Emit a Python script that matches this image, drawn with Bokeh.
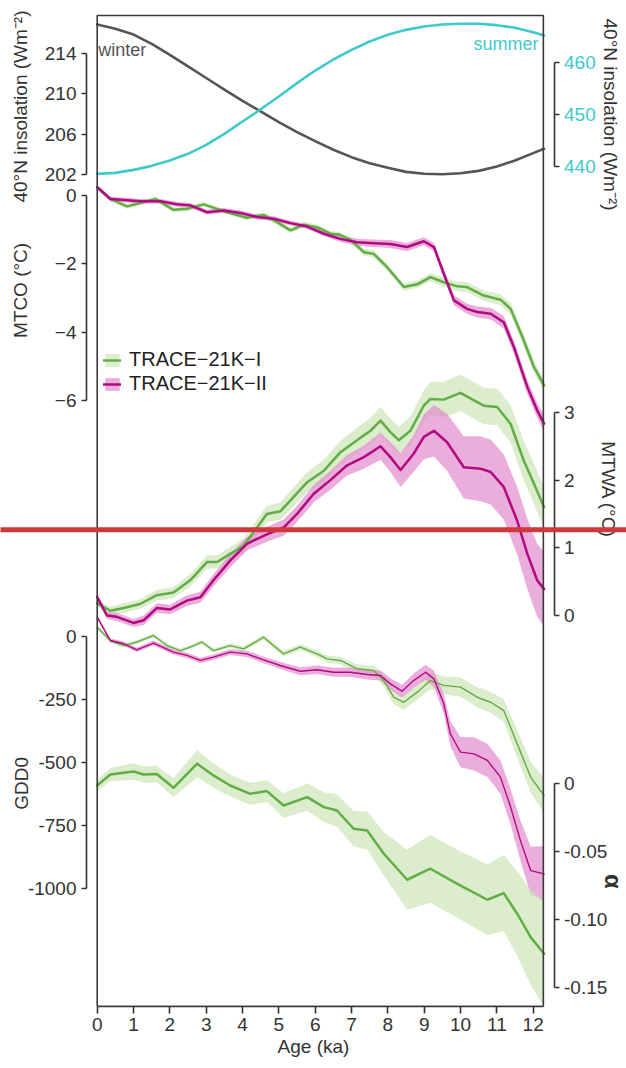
import numpy as np
from math import pi
from bokeh.plotting import figure
from bokeh.models import (Range1d, LinearAxis, FixedTicker, Label, Legend,
                          LegendItem, BoxAnnotation)
from bokeh.embed import file_html
from bokeh.resources import INLINE

# ---------------- data ----------------
ins_age = [0, 0.5, 1, 1.5, 2, 2.5, 3, 3.5, 4, 4.45, 5, 5.5, 6, 6.5, 7, 7.5, 8, 8.5,
           9, 9.5, 10, 10.5, 11, 11.5, 12, 12.3]
ins_winter = [216.88, 216.45, 215.88, 214.96, 213.87, 212.72, 211.57, 210.42, 209.30,
              208.35, 207.19, 206.20, 205.31, 204.45, 203.72, 203.12, 202.66, 202.26,
              202.07, 202.03, 202.13, 202.36, 202.79, 203.39, 204.12, 204.55]
ins_summer = [438.59, 438.78, 439.36, 440.13, 441.15, 442.44, 444.17, 446.28, 448.65,
              450.77, 453.46, 456.03, 458.46, 460.58, 462.44, 464.04, 465.32, 466.28,
              466.92, 467.31, 467.44, 467.44, 467.18, 466.67, 465.83, 465.19]

mtco1_age = [0, 0.36, 0.82, 1.18, 1.60, 2.10, 2.47, 2.93, 3.48, 4.12, 4.58, 4.95, 5.32,
             5.68, 6.05, 6.42, 6.65, 6.97, 7.34, 7.61, 7.98, 8.44, 8.81, 9.17, 9.54,
             9.91, 10.18, 10.64, 11.10, 11.38, 11.74, 12.02, 12.30]
mtco1 = [0.24, -0.10, -0.32, -0.22, -0.10, -0.42, -0.39, -0.26, -0.46, -0.65, -0.57,
         -0.78, -1.02, -0.86, -0.93, -1.12, -1.14, -1.30, -1.66, -1.71, -2.10, -2.68,
         -2.60, -2.39, -2.54, -2.66, -2.68, -2.93, -3.05, -3.32, -4.24, -5.02, -5.56]
mtco1_err = [0.06] + [0.07] * 10 + [0.08] * 6 + [0.09] + [0.10] * 4 + [0.11, 0.12, 0.13,
             0.14, 0.15, 0.15, 0.16, 0.17, 0.18, 0.18, 0.18]

mtco2_age = [0, 0.36, 0.73, 1.18, 1.74, 2.19, 2.56, 3.02, 3.48, 3.94, 4.40, 4.86, 5.32,
             5.78, 6.24, 6.69, 7.15, 7.61, 8.07, 8.53, 8.99, 9.27, 9.54, 9.82, 10.18,
             10.46, 10.83, 11.19, 11.47, 11.84, 12.11, 12.30]
mtco2 = [0.24, -0.10, -0.13, -0.17, -0.17, -0.26, -0.29, -0.49, -0.44, -0.51, -0.63,
         -0.68, -0.81, -0.91, -1.12, -1.27, -1.37, -1.40, -1.42, -1.51, -1.34, -1.51,
         -2.29, -3.07, -3.32, -3.41, -3.46, -3.71, -4.44, -5.61, -6.29, -6.68]
mtco2_err = [0.06] + [0.07] * 14 + [0.09, 0.10, 0.11, 0.12, 0.12, 0.12, 0.12, 0.13, 0.14,
             0.15, 0.16, 0.17, 0.18, 0.19, 0.20, 0.22, 0.24]

mtwa1_age = [0, 0.36, 0.73, 1.18, 1.64, 2.10, 2.56, 3.02, 3.30, 3.66, 4.03, 4.40, 4.67,
             5.04, 5.32, 5.78, 6.24, 6.69, 7.15, 7.52, 7.80, 8.07, 8.30, 8.62, 8.99,
             9.17, 9.54, 10.00, 10.37, 10.64, 11.01, 11.38, 11.74, 12.02, 12.30]
mtwa1 = [0.18, 0.07, 0.11, 0.17, 0.30, 0.34, 0.52, 0.79, 0.79, 0.91, 1.03, 1.30, 1.50,
         1.54, 1.70, 1.97, 2.14, 2.41, 2.59, 2.73, 2.88, 2.71, 2.59, 2.73, 3.10, 3.20,
         3.19, 3.29, 3.18, 3.10, 3.08, 2.83, 2.29, 1.95, 1.60]
mtwa1_err = [0.05, 0.06, 0.07, 0.07, 0.08, 0.08, 0.09, 0.10, 0.10, 0.10, 0.11, 0.12,
             0.12, 0.13, 0.14, 0.15, 0.16, 0.17, 0.18, 0.19, 0.20, 0.20, 0.20, 0.21,
             0.23, 0.25, 0.26, 0.27, 0.27, 0.27, 0.27, 0.28, 0.29, 0.30, 0.30]

mtwa2_age = [0, 0.27, 0.54, 1.00, 1.28, 1.64, 2.01, 2.47, 2.84, 3.20, 3.66, 4.12, 4.67,
             5.13, 5.50, 5.96, 6.42, 6.88, 7.34, 7.80, 8.07, 8.35, 8.71, 8.99, 9.27,
             9.63, 10.09, 10.55, 10.83, 11.19, 11.56, 11.84, 12.11, 12.30]
mtwa2 = [0.27, 0.00, -0.02, -0.11, -0.07, 0.11, 0.09, 0.22, 0.27, 0.52, 0.81, 1.06,
         1.20, 1.30, 1.50, 1.80, 2.00, 2.22, 2.34, 2.50, 2.34, 2.15, 2.39, 2.64, 2.73,
         2.56, 2.19, 2.17, 2.12, 1.90, 1.40, 0.91, 0.52, 0.39]
mtwa2_err = [0.05, 0.05, 0.06, 0.06, 0.07, 0.07, 0.07, 0.08, 0.08, 0.09, 0.10, 0.10,
             0.11, 0.12, 0.12, 0.13, 0.14, 0.15, 0.17, 0.20, 0.22, 0.25, 0.27, 0.33,
             0.38, 0.42, 0.46, 0.48, 0.48, 0.48, 0.50, 0.52, 0.54, 0.55]

gdd1_age = [0, 0.36, 0.73, 1.09, 1.55, 1.92, 2.29, 2.56, 2.88, 3.20, 3.66, 4.03, 4.58,
            5.13, 5.59, 6.05, 6.33, 6.69, 7.15, 7.61, 7.89, 8.16, 8.44, 8.81, 9.17,
            9.54, 10.00, 10.46, 10.83, 11.19, 11.56, 11.93, 12.30]
gdd1 = [37, -16, -36, -22, 4, -36, -56, -42, -22, -56, -36, -49, -3, -69, -42, -69, -89,
        -95, -128, -135, -175, -241, -261, -221, -175, -194, -201, -241, -261, -294,
        -426, -558, -631]
gdd1_err = [8] * 10 + [9, 10, 10, 11, 12, 13, 14, 15, 17, 20, 25, 28, 30, 30, 32, 35, 38,
            40, 42, 45, 55, 62, 68]

gdd2_age = [0, 0.36, 0.73, 1.09, 1.55, 2.10, 2.47, 2.84, 3.20, 3.66, 4.12, 4.58, 5.04,
            5.59, 6.05, 6.51, 6.97, 7.43, 7.80, 8.07, 8.39, 8.71, 9.04, 9.27, 9.54,
            9.72, 10.00, 10.37, 10.74, 11.10, 11.38, 11.65, 11.93, 12.30]
gdd2 = [77, -16, -29, -53, -26, -62, -75, -95, -82, -62, -69, -93, -115, -138, -132,
        -142, -142, -151, -155, -188, -217, -175, -142, -168, -267, -386, -459, -466,
        -492, -558, -677, -810, -929, -942]
gdd2_err = [8, 8, 9, 9, 10, 10, 10, 11, 11, 11, 12, 13, 14, 16, 17, 18, 19, 20, 20, 22,
            25, 28, 30, 32, 40, 50, 60, 66, 66, 66, 70, 80, 95, 110]

alpha_age = [0, 0.36, 1.00, 1.28, 1.64, 2.10, 2.75, 3.20, 3.66, 4.21, 4.67, 5.13, 5.78,
             6.24, 6.60, 7.06, 7.43, 7.89, 8.53, 9.17, 9.91, 10.74, 11.19, 11.56,
             11.93, 12.30]
alpha1 = [-0.0015, 0.0066, 0.0088, 0.0066, 0.0069, -0.0032, 0.0145, 0.0059, -0.0015,
          -0.0076, -0.0056, -0.0162, -0.0101, -0.0174, -0.0199, -0.0333, -0.0346,
          -0.0517, -0.0708, -0.0627, -0.0738, -0.0855, -0.0806, -0.0958, -0.1130,
          -0.1252]
alpha1_err = [0.004, 0.005, 0.006, 0.006, 0.006, 0.007, 0.010, 0.009, 0.008, 0.008,
              0.008, 0.009, 0.010, 0.011, 0.012, 0.013, 0.014, 0.016, 0.022, 0.025,
              0.025, 0.026, 0.028, 0.031, 0.035, 0.039]

x_ticks = list(range(13))
series_names = ["TRACE\u221221K\u2212I", "TRACE\u221221K\u2212II"]

# ---------------- styling ----------------
FONT = "Liberation Sans"
AXC = "#333333"
GREEN = "#62AD45"
GREEN_BAND = "#C7E4B0"
MAG = "#B10A80"
PINK_BAND = "#E28ACC"
CYAN = "#3FC9CC"
WINTER = "#555555"
TICK_FS = "19px"
TITLE_FS = "19px"

AGE_MAX = 12.28  # right edge of the data box

# The frame covers the whole canvas width so that the offset spines and titles
# (placed outside the data box) are not clipped; the visible box is drawn below.
p = figure(width=626, height=1064, output_backend="svg", toolbar_location=None,
           x_range=Range1d(-2.662, 14.569), y_range=Range1d(-23.74, 5.707),
           y_axis_location=None, min_border_left=0, min_border_right=0,
           min_border_top=0, min_border_bottom=58)
p.extra_y_ranges = {
    "ins_w": Range1d(119.49, 219.256),
    "ins_s": Range1d(278.5, 471.923),
    "mtwa": Range1d(-5.778, 9.088),
    "gdd": Range1d(-1468.3, 2523.8),
    "alpha": Range1d(-0.164, 0.5757),
}
p.grid.visible = False
p.outline_line_color = None
p.background_fill_color = "white"
p.border_fill_color = "white"


def band(x, y, e, rname, color, alpha):
    y = np.array(y, float)
    e = np.array(e, float)
    kw = {} if rname is None else {"y_range_name": rname}
    return p.varea(x=x, y1=y - e, y2=y + e, fill_color=color, fill_alpha=alpha, **kw)


def curve(x, y, rname, color, width):
    kw = {} if rname is None else {"y_range_name": rname}
    return p.line(x=x, y=y, line_color=color, line_width=width, line_join="round",
                  line_cap="round", **kw)


# insolation
curve(ins_age, ins_winter, "ins_w", WINTER, 2.6)
curve(ins_age, ins_summer, "ins_s", CYAN, 2.6)

# bands
gb_mtco = band(mtco1_age, mtco1, mtco1_err, None, GREEN_BAND, 0.65)
mb_mtco = band(mtco2_age, mtco2, mtco2_err, None, PINK_BAND, 0.7)
band(mtwa1_age, mtwa1, mtwa1_err, "mtwa", GREEN_BAND, 0.65)
band(mtwa2_age, mtwa2, mtwa2_err, "mtwa", PINK_BAND, 0.7)
band(gdd1_age, gdd1, gdd1_err, "gdd", GREEN_BAND, 0.65)
band(gdd2_age, gdd2, gdd2_err, "gdd", PINK_BAND, 0.7)
band(alpha_age, alpha1, alpha1_err, "alpha", GREEN_BAND, 0.65)

# lines
gl_mtco = curve(mtco1_age, mtco1, None, GREEN, 2.5)
ml_mtco = curve(mtco2_age, mtco2, None, MAG, 2.5)
curve(mtwa1_age, mtwa1, "mtwa", GREEN, 2.5)
curve(mtwa2_age, mtwa2, "mtwa", MAG, 2.5)
curve(gdd1_age, gdd1, "gdd", GREEN, 1.4)
curve(gdd2_age, gdd2, "gdd", MAG, 1.4)
curve(alpha_age, alpha1, "alpha", GREEN, 2.5)

# data box (top, left, right edges; bottom is the x axis)
p.add_layout(BoxAnnotation(left=0, right=AGE_MAX, top=5.268, bottom=-23.74,
                           fill_color=None, fill_alpha=0, line_color="#3a3a3a",
                           line_alpha=1.0, line_width=1.6))


def add_axis(side, rname, loc, ticks, labels, label_color=AXC):
    kw = {} if rname is None else {"y_range_name": rname}
    ax = LinearAxis(fixed_location=loc, bounds=(min(ticks), max(ticks)),
                    ticker=FixedTicker(ticks=ticks),
                    major_label_overrides={t: l for t, l in zip(ticks, labels)}, **kw)
    ax.axis_line_color = AXC
    ax.axis_line_width = 1.6
    ax.major_tick_line_color = AXC
    ax.major_tick_line_width = 1.6
    ax.major_tick_out = 5
    ax.major_tick_in = 0
    ax.minor_tick_line_color = None
    ax.major_label_text_font = FONT
    ax.major_label_text_font_size = TICK_FS
    ax.major_label_text_color = label_color
    ax.major_label_standoff = 5
    p.add_layout(ax, side)


LEFT_LOC = -0.295
RIGHT_LOC = 12.574
add_axis("left", "ins_w", LEFT_LOC, [202, 206, 210, 214], ["202", "206", "210", "214"])
add_axis("left", None, LEFT_LOC, [-6, -4, -2, 0], ["\u22126", "\u22124", "\u22122", "0"])
add_axis("left", "gdd", LEFT_LOC, [-1000, -750, -500, -250, 0],
         ["-1000", "-750", "-500", "-250", "0"])
add_axis("right", "ins_s", RIGHT_LOC, [440, 450, 460], ["440", "450", "460"], CYAN)
add_axis("right", "mtwa", RIGHT_LOC, [0, 1, 2, 3], ["0", "1", "2", "3"])
add_axis("right", "alpha", RIGHT_LOC, [-0.15, -0.10, -0.05, 0],
         ["-0.15", "-0.10", "-0.05", "0"])

# x axis
xa = p.xaxis[0]
xa.ticker = FixedTicker(ticks=x_ticks)
xa.bounds = (0, AGE_MAX)
xa.axis_label = "Age (ka)"
xa.axis_label_text_font = FONT
xa.axis_label_text_font_style = "normal"
xa.axis_label_text_font_size = TITLE_FS
xa.axis_label_text_color = AXC
xa.axis_label_standoff = 2
xa.major_label_text_font = FONT
xa.major_label_text_font_size = TICK_FS
xa.major_label_text_color = AXC
xa.major_label_standoff = 4
xa.major_tick_out = 7
xa.major_tick_in = 0
xa.major_tick_line_color = AXC
xa.major_tick_line_width = 1.6
xa.minor_tick_line_color = None
xa.axis_line_color = AXC
xa.axis_line_width = 1.6


def title(text, x, y, rname, angle, size=TITLE_FS, color=AXC, style="normal", font=FONT):
    kw = {} if rname is None else {"y_range_name": rname}
    p.add_layout(Label(x=x, y=y, text=text, angle=angle, text_align="center",
                       text_baseline="middle", text_font=font, text_font_size=size,
                       text_color=color, text_font_style=style, **kw))


title("40°N insolation (Wm\u207b\u00b2)", -2.11, 208.74, "ins_w", pi / 2)
title("MTCO (°C)", -2.11, -2.78, None, pi / 2)
title("GDD0", -2.08, -583, "gdd", pi / 2)
title("40°N insolation (Wm\u207b\u00b2)", 14.13, 450.0, "ins_s", -pi / 2)
title("MTWA (°C)", 14.07, 1.862, "mtwa", -pi / 2)
title("\u03b1", 14.2, -0.072, "alpha", -pi / 2, size="24px", style="bold")

# curve labels
p.add_layout(Label(x=0.03, y=214.3, y_range_name="ins_w", text="winter",
                   text_align="left", text_baseline="middle", text_font=FONT,
                   text_font_size="18px", text_color=WINTER))
p.add_layout(Label(x=12.15, y=463.65, y_range_name="ins_s", text="summer",
                   text_align="right", text_baseline="middle", text_font=FONT,
                   text_font_size="18px", text_color=CYAN))

# legend (location in pixels from the frame's bottom-left corner)
legend = Legend(items=[LegendItem(label=series_names[0], renderers=[gb_mtco, gl_mtco]),
                       LegendItem(label=series_names[1], renderers=[mb_mtco, ml_mtco])],
                location=(103, 611), background_fill_alpha=0, border_line_alpha=0,
                padding=0, margin=0, spacing=1, glyph_height=16, glyph_width=18,
                label_height=16, label_standoff=8, label_text_font=FONT,
                label_text_font_size="20px", label_text_color="#222222")
p.add_layout(legend)

# red horizontal marker line across the page
p.add_layout(BoxAnnotation(left=-2.7, right=14.6, bottom=1.231, top=1.305,
                           y_range_name="mtwa", fill_color="#D0393B", fill_alpha=1.0,
                           line_alpha=0, level="overlay"))

open("out.html", "w").write(file_html(p, INLINE))
